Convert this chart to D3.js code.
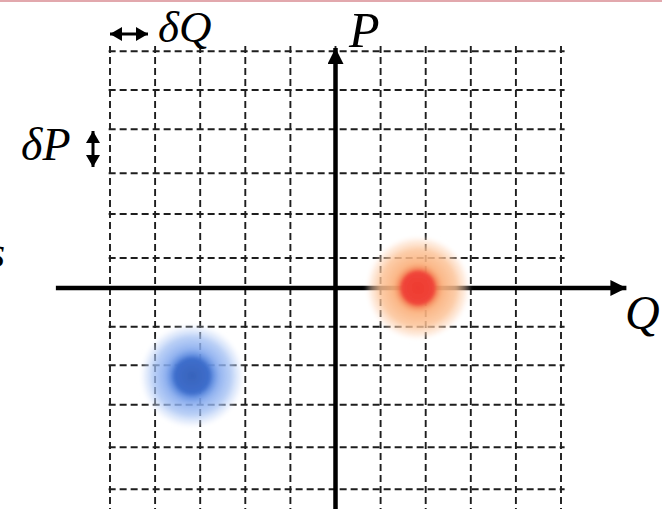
<!DOCTYPE html>
<html>
<head>
<meta charset="utf-8">
<script src="https://cdn.jsdelivr.net/npm/d3@7"></script>
<style>
  body { margin: 0; background: #fff; }
  svg { display: block; }
  .lbl { font-family: 'Liberation Serif', serif; font-style: italic; fill: #000; }
</style>
</head>
<body>
<svg width="662" height="509"></svg>
<script>
// grid columns (Q units) and grid rows (P units - spacing is a bit uneven)
const gridCols = [-5, -4, -3, -2, -1, 0, 1, 2, 3, 4, 5];
const gridRows = [5.92, 4.95, 3.97, 2.87, 1.85, 0.75, -0.97, -1.93, -2.92, -3.98, -5.03];

// the two states drawn as fuzzy blobs
const stateNames = ['red', 'blue'];
const stateQ = [1.83, -3.18];
const stateP = [0.0, -2.2];

const axisLabels = ['Q', 'P'];

const svg = d3.select('svg');
const width = +svg.attr('width');
const height = +svg.attr('height');

const xScale = d3.scaleLinear().domain([-5, 5]).range([110, 561]);
const yScale = d3.scaleLinear().domain([-5, 5]).range([488, 88]);

const defs = svg.append('defs');

const arrowHead = (id, w, h) => {
    defs.append('marker')
        .attr('id', id)
        .attr('viewBox', `0 ${-h} ${w} ${2 * h}`)
        .attr('refX', w).attr('refY', 0)
        .attr('markerWidth', w).attr('markerHeight', 2 * h)
        .attr('markerUnits', 'userSpaceOnUse')
        .attr('orient', 'auto-start-reverse')
      .append('path')
        .attr('d', `M0,${-h}L${w},0L0,${h}Z`)
        .attr('fill', '#000');
};
arrowHead('axisHead', 16, 8);
arrowHead('smallHead', 12, 7);

// radial gradients for blobs
const blobStops = {
    red: [[0, '#ee3a2f', 1], [0.3, '#f0453a', 1], [0.36, '#f58a5a', 0.95], [0.45, '#fab07c', 0.92], [0.7, '#fcc194', 0.82], [0.87, '#fdd6b9', 0.45], [1, '#fff', 0]],
    blue: [[0, '#3863bb', 1], [0.32, '#3e6ecc', 1], [0.4, '#6390e2', 0.95], [0.5, '#84a9ee', 0.88], [0.72, '#a0bef3', 0.72], [0.87, '#c6d8f8', 0.4], [1, '#fff', 0]]
};
stateNames.forEach(n => {
    defs.append('radialGradient').attr('id', 'grad-' + n)
      .selectAll('stop').data(blobStops[n])
      .enter().append('stop')
        .attr('offset', d => d[0])
        .attr('stop-color', d => d[1])
        .attr('stop-opacity', d => d[2]);
});
defs.append('filter').attr('id', 'soft')
    .attr('x', '-20%').attr('y', '-20%').attr('width', '140%').attr('height', '140%')
  .append('feGaussianBlur').attr('stdDeviation', 1.8);

// pink line at very top
svg.append('rect')
    .attr('x', 0).attr('y', 0).attr('width', width).attr('height', 2)
    .attr('fill', '#e2a8ad');

// dashed grid
const g = svg.append('g');
g.selectAll('.vline').data(gridCols)
    .enter().append('line')
      .attr('class', 'vline')
      .attr('x1', d => xScale(d)).attr('x2', d => xScale(d))
      .attr('y1', yScale(6.05)).attr('y2', height)
      .attr('stroke', '#1e1e1e').attr('stroke-width', 1.9)
      .attr('stroke-dasharray', '7,4');
g.selectAll('.hline').data(gridRows)
    .enter().append('line')
      .attr('class', 'hline')
      .attr('x1', xScale(-5.03)).attr('x2', xScale(5.08))
      .attr('y1', d => yScale(d)).attr('y2', d => yScale(d))
      .attr('stroke', '#1e1e1e').attr('stroke-width', 1.9)
      .attr('stroke-dasharray', '7,4');

// axes
svg.append('line')
    .attr('x1', xScale(-6.2)).attr('x2', xScale(6.45))
    .attr('y1', yScale(0)).attr('y2', yScale(0))
    .attr('stroke', '#000').attr('stroke-width', 4.5)
    .attr('marker-end', 'url(#axisHead)');
svg.append('line')
    .attr('x1', xScale(0)).attr('x2', xScale(0))
    .attr('y1', height).attr('y2', yScale(6.0))
    .attr('stroke', '#000').attr('stroke-width', 4.5)
    .attr('marker-end', 'url(#axisHead)');

// blobs
svg.selectAll('.blob').data(stateNames)
    .enter().append('circle')
      .attr('class', 'blob')
      .attr('cx', (d, i) => xScale(stateQ[i]))
      .attr('cy', (d, i) => yScale(stateP[i]))
      .attr('r', 54)
      .attr('fill', d => `url(#grad-${d})`)
      .attr('filter', 'url(#soft)');

// axis labels
svg.append('text').attr('class', 'lbl')
    .attr('x', 625).attr('y', 329)
    .attr('font-size', 48)
    .text(axisLabels[0]);
svg.append('text').attr('class', 'lbl')
    .attr('x', 349).attr('y', 47)
    .attr('font-size', 50)
    .text(axisLabels[1]);

// step size indicators
svg.append('line')
    .attr('x1', 110).attr('x2', 148).attr('y1', 34).attr('y2', 34)
    .attr('stroke', '#000').attr('stroke-width', 3)
    .attr('marker-start', 'url(#smallHead)')
    .attr('marker-end', 'url(#smallHead)');
svg.append('text').attr('class', 'lbl')
    .attr('x', 158).attr('y', 42)
    .attr('font-size', 45)
    .text('δ' + axisLabels[0]);

svg.append('line')
    .attr('x1', 93).attr('x2', 93).attr('y1', 131).attr('y2', 167)
    .attr('stroke', '#000').attr('stroke-width', 3)
    .attr('marker-start', 'url(#smallHead)')
    .attr('marker-end', 'url(#smallHead)');
svg.append('text').attr('class', 'lbl')
    .attr('x', 21).attr('y', 160)
    .attr('font-size', 46)
    .text('δ' + axisLabels[1]);

// cut-off text at the left edge
svg.append('text').attr('class', 'lbl')
    .attr('x', 5).attr('y', 267)
    .attr('text-anchor', 'end')
    .attr('font-style', 'normal')
    .attr('font-size', 44)
    .text('s');
</script>
</body>
</html>
